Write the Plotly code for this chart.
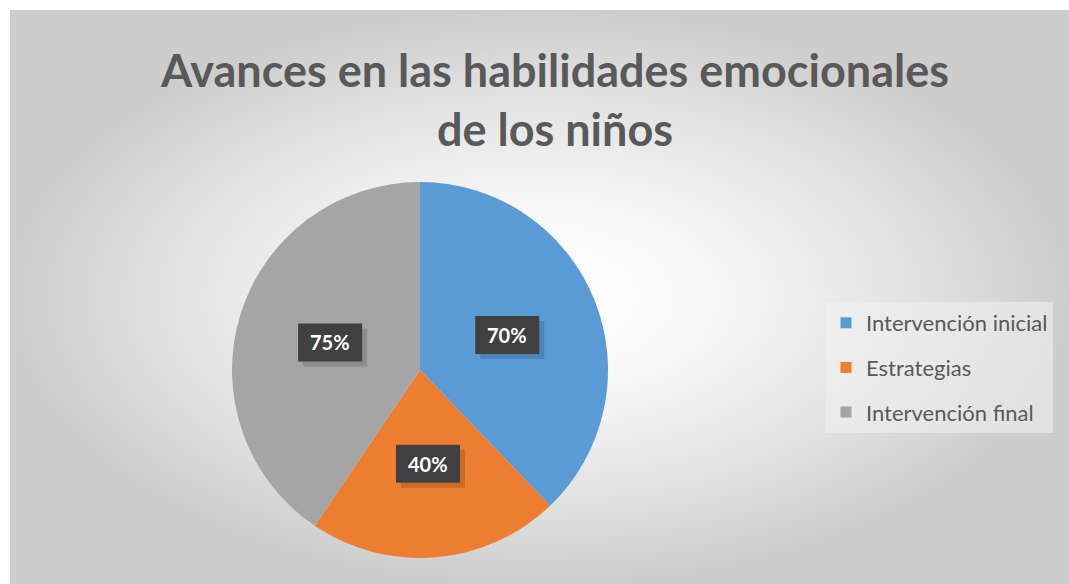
import math
import plotly.graph_objects as go

CATEGORIES = ["Intervención inicial", "Estrategias", "Intervención final"]
VALUES = [70, 40, 75]
LABELS = ["70%", "40%", "75%"]
COLORS = ["#5B9BD5", "#ED7D31", "#A5A5A5"]

W, H = 1069, 584
PIE_X = [232 / W, 608 / W]
PIE_Y = [1 - 558 / H, 1 - 182 / H]
FONT = "Lato, Arial"

fig = go.Figure()

# radial-gradient chart area background
fig.add_trace(
    go.Scatter(
        x=[10 / W, 1, 1, 10 / W, 10 / W],
        y=[0, 0, 1 - 10 / H, 1 - 10 / H, 0],
        mode="lines",
        line=dict(width=0),
        fill="toself",
        fillgradient=dict(
            type="radial",
            colorscale=[[0, "#ffffff"], [0.3, "#f8f8f8"], [0.7, "#e2e2e2"], [1, "#cdcdcd"]],
        ),
        hoverinfo="skip",
        showlegend=False,
    )
)

fig.add_trace(
    go.Pie(
        labels=CATEGORIES,
        values=VALUES,
        marker=dict(colors=COLORS, line=dict(width=0)),
        sort=False,
        direction="clockwise",
        rotation=0,
        textinfo="none",
        domain=dict(x=PIE_X, y=PIE_Y),
        hovertemplate="%{label}: %{value}%<extra></extra>",
        showlegend=False,
    )
)

# legend entries (one group each so the gap between rows can be set)
for name, color in zip(CATEGORIES, COLORS):
    fig.add_trace(
        go.Scatter(
            x=[None], y=[None], mode="markers", name=name, legendgroup=name,
            marker=dict(symbol="square", size=11, color=color),
        )
    )

# data labels in dark boxes, placed along each slice's mid angle
cx = (PIE_X[0] + PIE_X[1]) / 2
cy = (PIE_Y[0] + PIE_Y[1]) / 2
r_px = (PIE_X[1] - PIE_X[0]) * W / 2
box_w, box_h = 64 / W, 38 / H
total = sum(VALUES)
cum = 0
for v, lab in zip(VALUES, LABELS):
    mid = (cum + v / 2) / total * 2 * math.pi
    cum += v
    lx = cx + 0.5 * r_px * math.sin(mid) / W
    ly = cy + 0.5 * r_px * math.cos(mid) / H
    # soft drop shadow
    fig.add_shape(
        type="rect", xref="paper", yref="paper",
        x0=lx - box_w / 2 + 5 / W, x1=lx + box_w / 2 + 5 / W,
        y0=ly - box_h / 2 - 5 / H, y1=ly + box_h / 2 - 5 / H,
        fillcolor="rgba(0,0,0,0.15)", line=dict(width=0), layer="above",
    )
    fig.add_shape(
        type="rect", xref="paper", yref="paper",
        x0=lx - box_w / 2, x1=lx + box_w / 2,
        y0=ly - box_h / 2, y1=ly + box_h / 2,
        fillcolor="#404040", line=dict(width=0), layer="above",
    )
    fig.add_annotation(
        x=lx, y=ly, xref="paper", yref="paper",
        xanchor="center", yanchor="middle",
        text=f"<b>{lab}</b>", showarrow=False,
        font=dict(family=FONT, size=20, color="#ffffff"),
    )

fig.update_layout(
    width=W,
    height=H,
    margin=dict(l=0, r=0, t=0, b=0),
    paper_bgcolor="#ffffff",
    plot_bgcolor="rgba(0,0,0,0)",
    xaxis=dict(range=[0, 1], visible=False, fixedrange=True),
    yaxis=dict(range=[0, 1], visible=False, fixedrange=True),
    title=dict(
        text="<b>Avances en las habilidades emocionales<br>de los niños</b>",
        x=555 / W, xanchor="center", y=1 - 87 / H, yanchor="middle",
        font=dict(family=FONT, size=45, color="#595959"),
    ),
    legend=dict(
        x=826 / W, y=1 - 302 / H, xanchor="left", yanchor="top",
        bgcolor="rgba(242,242,242,0.55)",
        font=dict(family=FONT, size=22, color="#595959"),
        tracegroupgap=13, itemwidth=30,
    ),
)

fig.write_html(
    "out.html",
    config={"displayModeBar": False},
    post_script="document.body.style.margin='0';",
)
